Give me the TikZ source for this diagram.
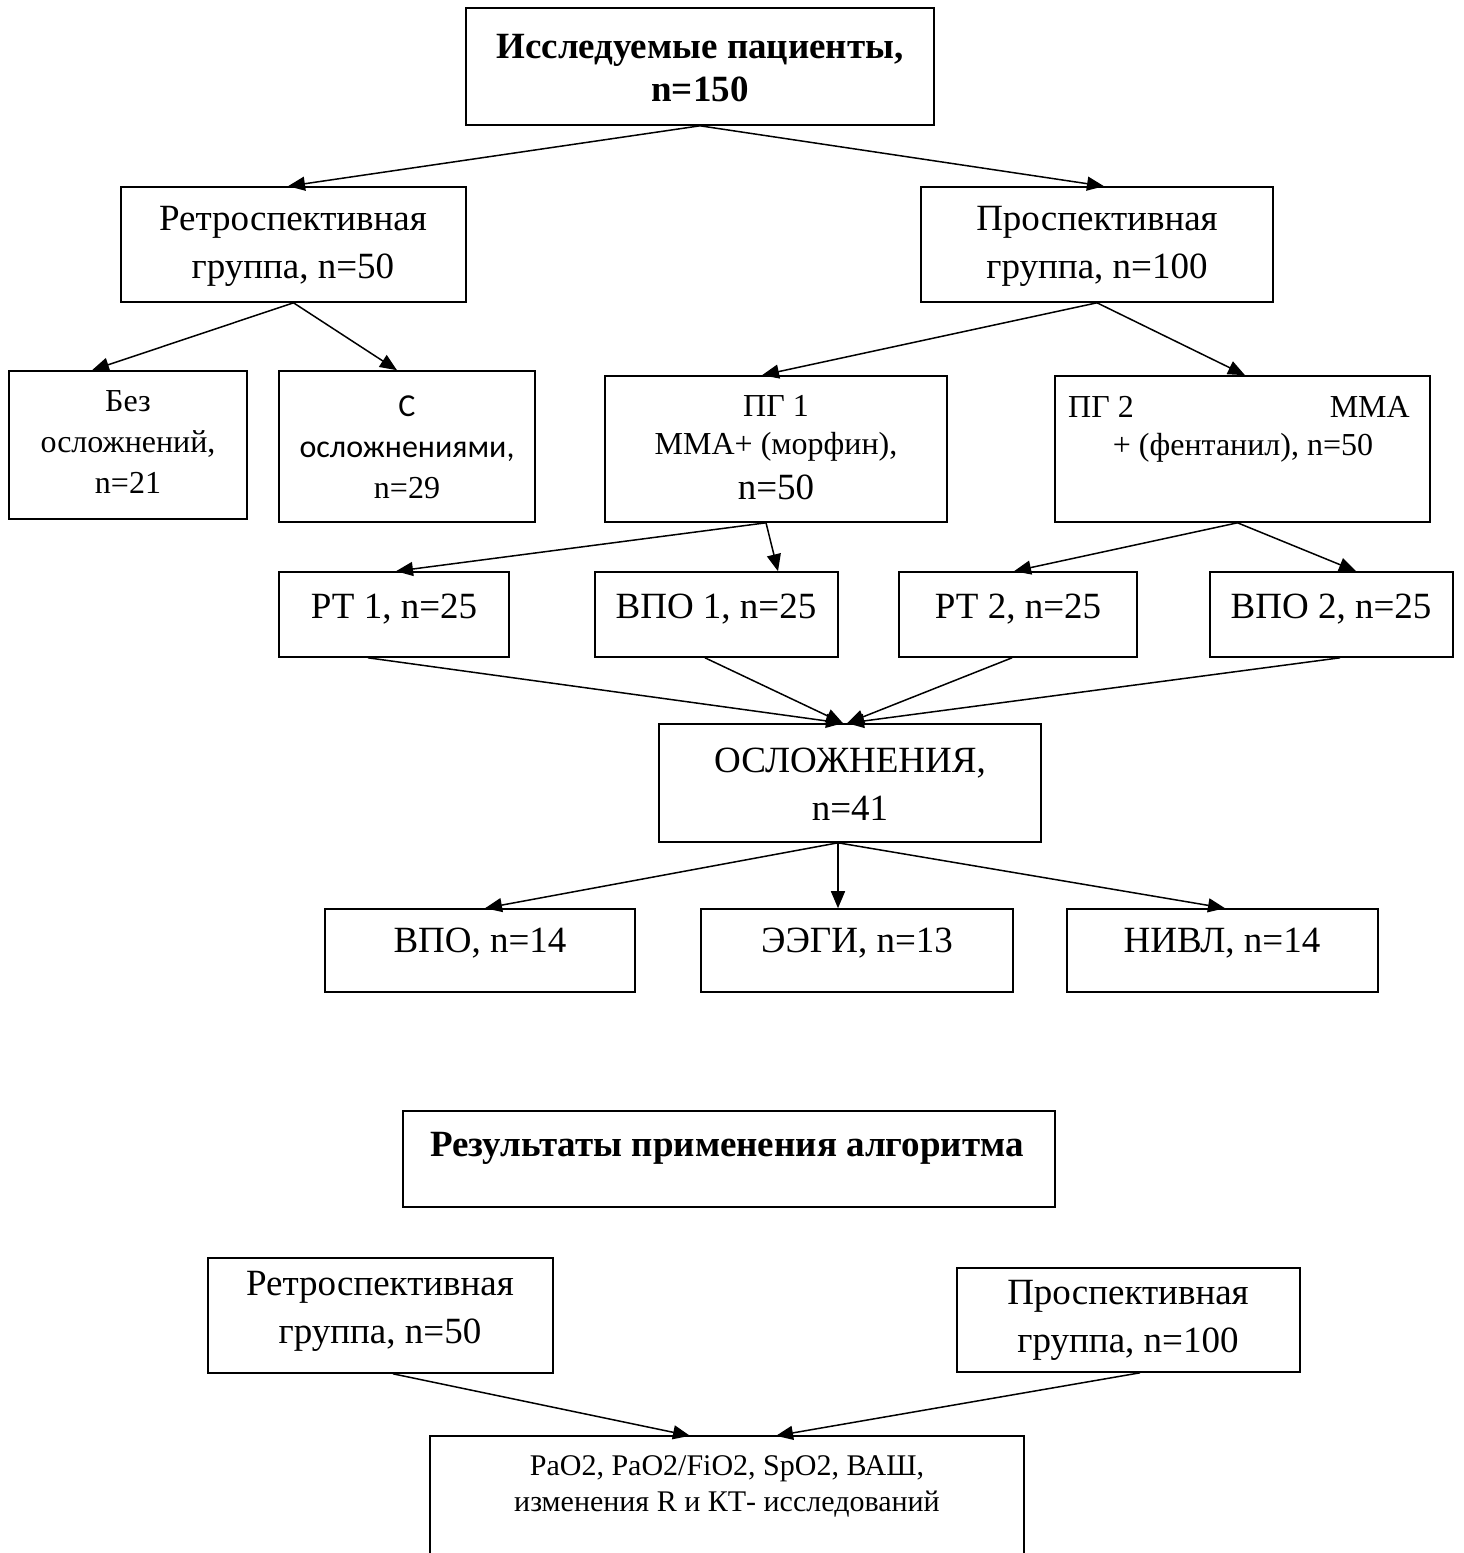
\documentclass[tikz,border=0pt]{standalone}
\usepackage{fontspec}
\setmainfont{Liberation Serif}
\newfontfamily\calfont{Carlito}
\usetikzlibrary{arrows.meta,calc,fit}
\newcommand{\fA}{\fontsize{37}{48}\selectfont}
\newcommand{\fAb}{\fontsize{37}{43}\selectfont\bfseries}
\newcommand{\fB}{\fontsize{32}{41}\selectfont}
\newcommand{\fBt}{\fontsize{32}{38}\selectfont}
\newcommand{\fC}{\fontsize{30}{36}\selectfont}
\tikzset{
  box/.style={draw, line width=1.6pt, inner sep=0pt, rectangle},
  openbox/.style={inner sep=0pt, rectangle},
  txt/.style={inner sep=0pt, align=center},
  arr/.style={line width=1.5pt, -{Triangle[length=17pt,width=14pt]}}
}
\begin{document}
\begin{tikzpicture}[x=1pt,y=-1pt]
\useasboundingbox (0,0) rectangle (1464,1553);
% boxes
\node[box, fit={(466,8) (934,125)}] (top) {};
\node[box, fit={(121,187) (466,302)}] (retro) {};
\node[box, fit={(921,187) (1273,302)}] (prosp) {};
\node[box, fit={(9,371) (247,519)}] (bez) {};
\node[box, fit={(279,371) (535,522)}] (sosl) {};
\node[box, fit={(605,376) (947,522)}] (pg1) {};
\node[box, fit={(1055,376) (1430,522)}] (pg2) {};
\node[box, fit={(279,572) (509,657)}] (rt1) {};
\node[box, fit={(595,572) (838,657)}] (vpo1) {};
\node[box, fit={(899,572) (1137,657)}] (rt2) {};
\node[box, fit={(1210,572) (1453,657)}] (vpo2) {};
\node[box, fit={(659,724) (1041,842)}] (osl) {};
\node[box, fit={(325,909) (635,992)}] (vpo) {};
\node[box, fit={(701,909) (1013,992)}] (eegi) {};
\node[box, fit={(1067,909) (1378,992)}] (nivl) {};
\node[box, fit={(403,1111) (1055,1207)}] (resalg) {};
\node[box, fit={(208,1258) (553,1373)}] (retroB) {};
\node[box, fit={(957,1268) (1300,1372)}] (prospB) {};
\node[openbox, fit={(430,1436) (1024,1553)}] (res) {};
\draw[line width=1.6pt] (res.south west) -- (res.north west) -- (res.north east) -- (res.south east);
% texts
\node[txt, font=\fAb] (ttop) at (700,68) {Исследуемые пациенты,\\n=150};
\node[txt, font=\fA] (tretro) at (293,246) {Ретроспективная\\группа, n=50};
\node[txt, font=\fA] (tprosp) at (1097,246) {Проспективная\\группа, n=100};
\node[txt, font=\fB] (tbez) at (128,442) {Без\\осложнений,\\n=21};
\node[txt, font=\fB] (tsosl) at (407,447) {{\calfont С}\\{\calfont осложнениями,}\\n=29};
\node[txt, font=\fBt] (tpg1a) at (776,428) {ПГ 1\\ММА+ (морфин),};
\node[txt, font=\fA] (tpg1b) at (776,487) {n=50};
\node[txt, font=\fB, anchor=west] (tpg2a) at (1068,407) {ПГ 2};
\node[txt, font=\fB, anchor=east] (tpg2b) at (1410,407) {ММА};
\node[txt, font=\fB] (tpg2c) at (1243,448) {+ (фентанил), n=50};
\node[txt, font=\fA] (trt1) at (394,609) {РТ 1, n=25};
\node[txt, font=\fA] (tvpo1) at (716,609) {ВПО 1, n=25};
\node[txt, font=\fA] (trt2) at (1018,609) {РТ 2, n=25};
\node[txt, font=\fA] (tvpo2) at (1331,609) {ВПО 2, n=25};
\node[txt, font=\fA] (tosl) at (850,784) {ОСЛОЖНЕНИЯ,\\n=41};
\node[txt, font=\fA] (tvpo) at (480,943) {ВПО, n=14};
\node[txt, font=\fA] (teegi) at (857,943) {ЭЭГИ, n=13};
\node[txt, font=\fA] (tnivl) at (1222,943) {НИВЛ, n=14};
\node[txt, font=\fAb] (tresalg) at (727,1148) {Результаты применения алгоритма};
\node[txt, font=\fA] (tretroB) at (380,1311) {Ретроспективная\\группа, n=50};
\node[txt, font=\fA] (tprospB) at (1128,1320) {Проспективная\\группа, n=100};
\node[txt, font=\fC] (tres) at (727,1486) {PaO2, PaO2/FiO2, SpO2, ВАШ,\\изменения R и КТ- исследований};
% arrows
\draw[arr] (top.south) -- ($(retro.north)+(-5.5,0)$);
\draw[arr] (top.south) -- ($(prosp.north)+(7,0)$);
\draw[arr] (retro.south) -- ($(bez.north)+(-36,0)$);
\draw[arr] (retro.south) -- ($(sosl.north)+(-10,0)$);
\draw[arr] (prosp.south) -- ($(pg1.north)+(-14,0)$);
\draw[arr] (prosp.south) -- ($(pg2.north)+(2.5,0)$);
\draw[arr] ($(pg1.south)+(-10,0)$) -- ($(rt1.north)+(2,0)$);
\draw[arr] ($(pg1.south)+(-10,0)$) -- ($(vpo1.north)+(61.5,0)$);
\draw[arr] ($(pg2.south)+(-5,0)$) -- ($(rt2.north)+(-4,0)$);
\draw[arr] ($(pg2.south)+(-5,0)$) -- ($(vpo2.north)+(24.5,0)$);
\draw[arr] ($(rt1.south)+(-26,0)$) -- ($(osl.north)+(-7,0)$);
\draw[arr] ($(vpo1.south)+(-11.5,0)$) -- ($(osl.north)+(-7,0)$);
\draw[arr] ($(rt2.south)+(-6,0)$) -- ($(osl.north)+(-3,0)$);
\draw[arr] ($(vpo2.south)+(8.5,0)$) -- ($(osl.north)+(-3,0)$);
\draw[arr] ($(osl.south)+(-12,0)$) -- ($(vpo.north)+(5,0)$);
\draw[arr] ($(osl.south)+(-12,0)$) -- ($(eegi.north)+(-19,0)$);
\draw[arr] ($(osl.south)+(-12,0)$) -- ($(nivl.north)+(2.5,0)$);
\draw[arr] ($(retroB.south)+(12.5,0)$) -- ($(res.north)+(-37,0)$);
\draw[arr] ($(prospB.south)+(11.5,0)$) -- ($(res.north)+(49,0)$);
\end{tikzpicture}
\end{document}
